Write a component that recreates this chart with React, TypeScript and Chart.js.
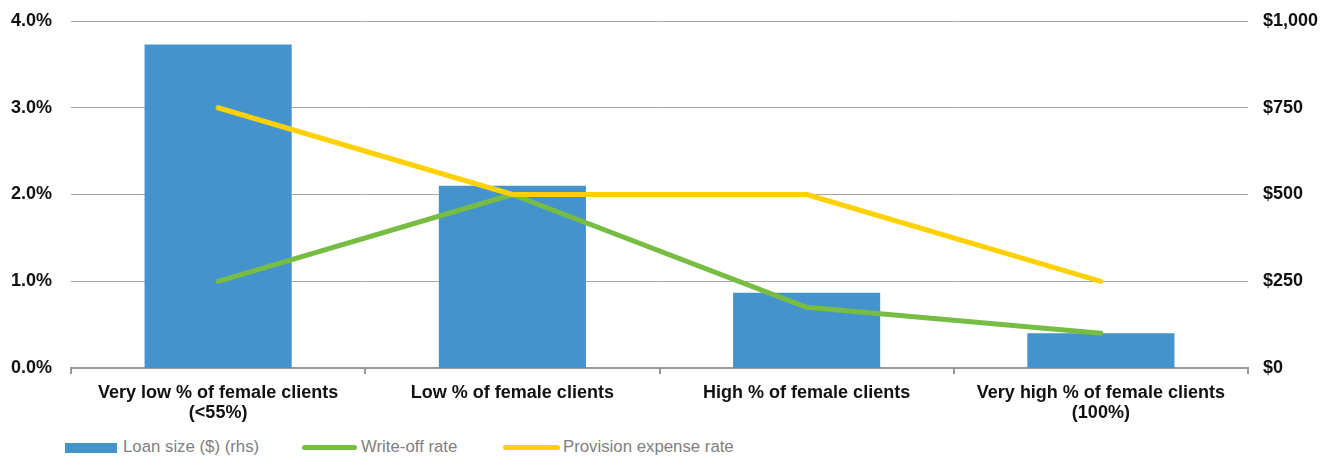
import React, { useEffect, useRef } from "react";
import { Chart, registerables } from "chart.js";

Chart.register(...registerables);

const categories: string[][] = [
  ["Very low % of female clients", "(<55%)"],
  ["Low % of female clients"],
  ["High % of female clients"],
  ["Very high % of female clients", "(100%)"],
];
const loanSize: number[] = [932, 525, 217, 100];
const writeOffRate: number[] = [1.0, 2.0, 0.7, 0.4];
const provisionRate: number[] = [3.0, 2.0, 2.0, 1.0];
const leftTicks: number[] = [0, 1, 2, 3, 4];
const rightTicks: number[] = [0, 250, 500, 750, 1000];

const seriesNames = ["Loan size ($) (rhs)", "Write-off rate", "Provision expense rate"];
const BLUE = "#4593cd";
const GREEN = "#77bd43";
const YELLOW = "#ffd100";
const FONT = "'Liberation Sans', Arial, Helvetica, sans-serif";

export default function App() {
  const ref = useRef<HTMLCanvasElement | null>(null);

  useEffect(() => {
    if (!ref.current) return;
    const chart = new Chart(ref.current, {
      data: {
        labels: categories,
        datasets: [
          {
            type: "bar",
            label: seriesNames[0],
            data: loanSize,
            yAxisID: "y1",
            backgroundColor: BLUE,
            barPercentage: 0.5,
            categoryPercentage: 1.0,
            order: 3,
          },
          {
            type: "line",
            label: seriesNames[1],
            data: writeOffRate,
            yAxisID: "y",
            borderColor: GREEN,
            backgroundColor: GREEN,
            borderWidth: 5,
            pointRadius: 0,
            borderCapStyle: "round",
            borderJoinStyle: "round",
            tension: 0,
            order: 2,
          },
          {
            type: "line",
            label: seriesNames[2],
            data: provisionRate,
            yAxisID: "y",
            borderColor: YELLOW,
            backgroundColor: YELLOW,
            borderWidth: 5,
            pointRadius: 0,
            borderCapStyle: "round",
            borderJoinStyle: "round",
            tension: 0,
            order: 1,
          },
        ],
      },
      options: {
        animation: false,
        responsive: true,
        maintainAspectRatio: false,
        layout: { padding: { left: 10, right: 17, top: 21, bottom: 0 } },
        plugins: {
          legend: { display: false },
          tooltip: { enabled: false },
        },
        scales: {
          x: {
            offset: true,
            afterFit: (s: any) => {
              s.paddingLeft = 0;
              s.paddingRight = 0;
            },
            grid: {
              offset: true,
              drawOnChartArea: false,
              drawTicks: true,
              tickLength: 6,
              color: "#999999",
              lineWidth: 2,
            },
            border: { display: true, color: "#999999", width: 2 },
            ticks: {
              color: "#111111",
              padding: 9,
              maxRotation: 0,
              autoSkip: false,
              font: { family: FONT, size: 18, weight: "bold", lineHeight: 1.11 },
            },
          },
          y: {
            position: "left",
            min: 0,
            max: 4,
            afterBuildTicks: (s: any) => {
              s.ticks = leftTicks.map((v) => ({ value: v }));
            },
            afterFit: (s: any) => {
              s.paddingTop = 0;
              s.paddingBottom = 0;
              s.width = 61;
            },
            grid: { color: "#a6a6a6", lineWidth: 1, drawTicks: false },
            border: { display: false },
            ticks: {
              color: "#111111",
              padding: 19,
              font: { family: FONT, size: 18, weight: "bold" },
              callback: (v: any) => Number(v).toFixed(1) + "%",
            },
          },
          y1: {
            position: "right",
            min: 0,
            max: 1000,
            afterBuildTicks: (s: any) => {
              s.ticks = rightTicks.map((v) => ({ value: v }));
            },
            afterFit: (s: any) => {
              s.paddingTop = 0;
              s.paddingBottom = 0;
              s.width = 70;
            },
            grid: { display: false, drawTicks: false },
            border: { display: false },
            ticks: {
              color: "#111111",
              padding: 15,
              font: { family: FONT, size: 18, weight: "bold" },
              callback: (v: any) => "$" + Number(v).toLocaleString("en-US"),
            },
          },
        },
      },
    });
    return () => chart.destroy();
  }, []);

  const legendText: React.CSSProperties = {
    position: "absolute",
    top: 0,
    height: 18,
    lineHeight: "18px",
    fontFamily: FONT,
    fontSize: 16.8,
    color: "#808080",
    whiteSpace: "nowrap",
  };

  return (
    <div style={{ position: "absolute", left: 0, top: 0, width: 1335, height: 458, background: "#fff" }}>
      <div style={{ position: "absolute", left: 0, top: 0, width: 1335, height: 432 }}>
        <canvas ref={ref} />
      </div>
      <div style={{ position: "absolute", left: 0, top: 438, width: 1335, height: 18 }}>
        <div style={{ position: "absolute", left: 65, top: 5, width: 52, height: 10, background: BLUE }} />
        <span style={{ ...legendText, left: 123 }}>{seriesNames[0]}</span>
        <div style={{ position: "absolute", left: 302, top: 7, width: 55, height: 5, borderRadius: 3, background: GREEN }} />
        <span style={{ ...legendText, left: 361 }}>{seriesNames[1]}</span>
        <div style={{ position: "absolute", left: 503, top: 7, width: 57, height: 5, borderRadius: 3, background: YELLOW }} />
        <span style={{ ...legendText, left: 563 }}>{seriesNames[2]}</span>
      </div>
    </div>
  );
}
